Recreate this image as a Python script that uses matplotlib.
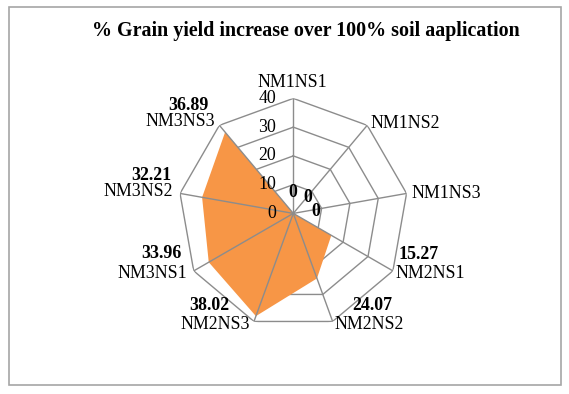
import numpy as np
import matplotlib
matplotlib.use("Agg")
import matplotlib.pyplot as plt
from matplotlib.patches import Rectangle

categories = ["NM1NS1", "NM1NS2", "NM1NS3", "NM2NS1", "NM2NS2", "NM2NS3",
              "NM3NS1", "NM3NS2", "NM3NS3"]
values = [0, 0, 0, 15.27, 24.07, 38.02, 33.96, 32.21, 36.89]
value_labels = ["0", "0", "0", "15.27", "24.07", "38.02", "33.96", "32.21", "36.89"]
rticks = [0, 10, 20, 30, 40]
title = "% Grain yield increase over 100% soil aaplication"

plt.rcParams['font.family'] = ['Liberation Serif', 'DejaVu Serif']

W, H = 569, 394
fig = plt.figure(figsize=(W/100, H/100), dpi=100)
fig.patches.append(Rectangle((9/W, 1-385/H), 552/W, 378/H, transform=fig.transFigure,
                             fill=False, edgecolor='#A6A6A6', linewidth=1.2))

cx, cy, R = 293.3, 213.4, 115
ax = fig.add_axes([(cx-R)/W, (H-cy-R)/H, 2*R/W, 2*R/H], projection='polar')
ax.set_theta_offset(np.pi/2)
ax.set_theta_direction(-1)
ax.set_ylim(0, 40)
ax.grid(False)
ax.spines['polar'].set_visible(False)
ax.set_xticks([])
ax.set_yticks([])
ax.patch.set_alpha(0)

n = len(categories)
theta = np.arange(n) * 2*np.pi/n
tc = np.append(theta, theta[0])

grid_color = '#8C8C8C'
for r in rticks[1:]:
    ax.plot(tc, [r]*(n+1), color=grid_color, lw=1.0, zorder=1)
for t in theta:
    ax.plot([t, t], [0, 40], color=grid_color, lw=1.0, zorder=3)

vc = np.append(values, values[0])
ax.fill(tc, vc, color='#F79646', zorder=2, lw=0)

FS = 12.9
# radial tick labels
for r in rticks:
    ax.annotate(str(r), xy=(0, r), xytext=(-17, 0), textcoords='offset pixels',
                ha='right', va='center', fontsize=FS, zorder=6)

# label offsets in pixels (x right, y up) from the outer vertex
name_off = [(-1, 15.5), (3, 2), (5, 0), (3, -3), (37, -3.5), (-39, -3.5), (-7, -3), (-7, 1.5), (-4.6, 3.4)]
val_off = [None, None, None, (6, 16), (40, 16), (-45, 16), (-12, 17), (-9, 17.5), (-10.6, 19.4)]
has = ['center', 'left', 'left', 'left', 'center', 'center', 'right', 'right', 'right']
zero_off = [(0, 20.6), (14.7, 16), (22.7, 1.6)]

for i in range(n):
    ax.annotate(categories[i], xy=(theta[i], 40), xytext=name_off[i], textcoords='offset pixels',
                ha=has[i], va='center', fontsize=FS)
    if values[i] == 0:
        ax.annotate(value_labels[i], xy=(0, 0), xytext=zero_off[i], textcoords='offset pixels',
                    ha='center', va='center', fontsize=FS, fontweight='bold', zorder=5)
    else:
        ax.annotate(value_labels[i], xy=(theta[i], 40), xytext=val_off[i], textcoords='offset pixels',
                    ha=has[i], va='center', fontsize=FS, fontweight='bold')

fig.text(306/W, 1-31/H, title, ha='center', va='center', fontsize=14.4, fontweight='bold')

fig.savefig("out.png", dpi=100)
